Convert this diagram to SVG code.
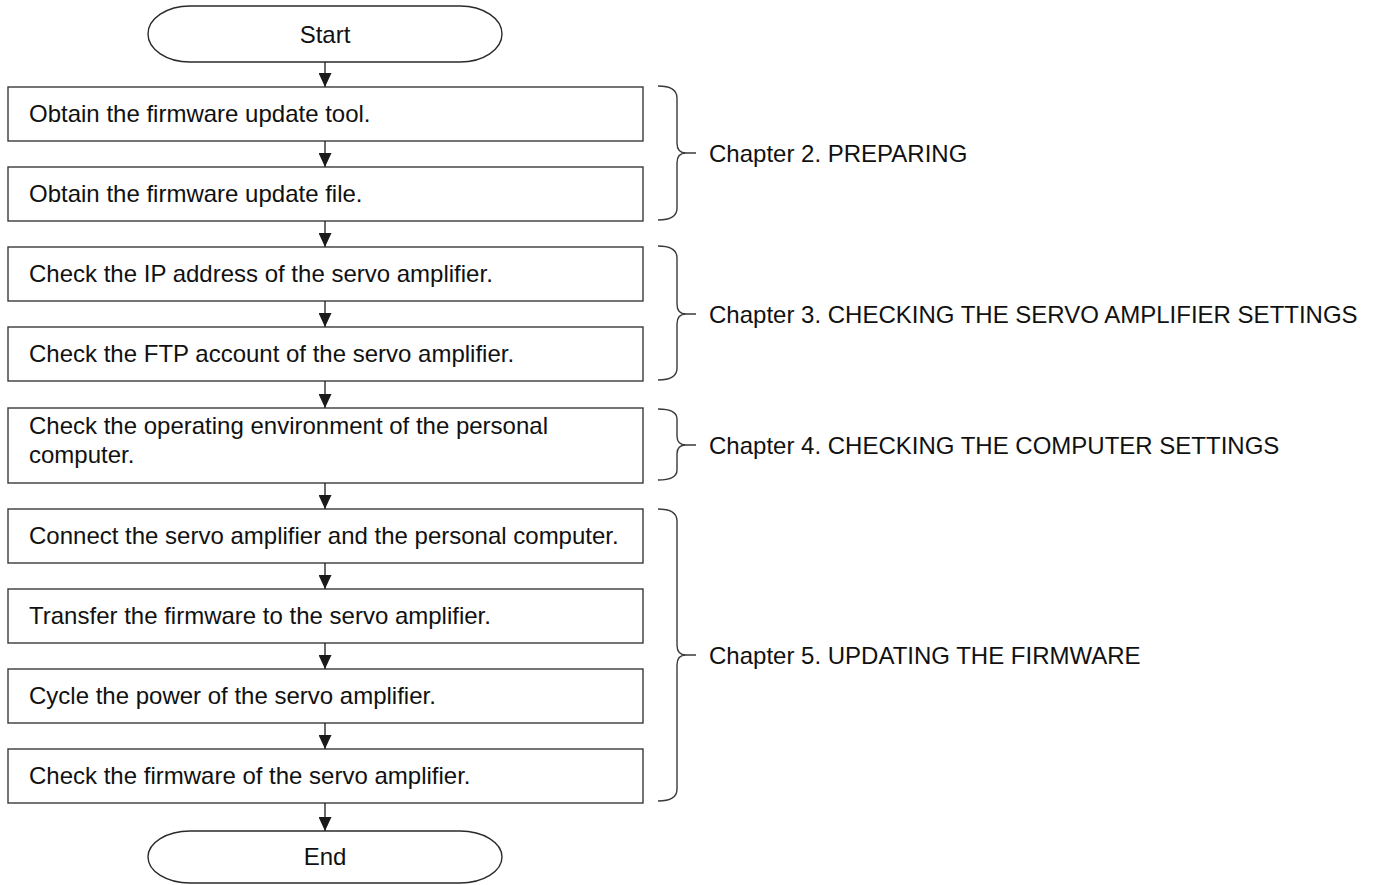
<svg xmlns="http://www.w3.org/2000/svg" width="1376" height="885" viewBox="0 0 1376 885">
<style>
.box{fill:#fff;stroke:#3a3a3a;stroke-width:1.4}
.term{fill:#fff;stroke:#2a2a2a;stroke-width:1.4}
.t{font-family:"Liberation Sans",Arial,sans-serif;font-size:24px;fill:#111}
.c{text-anchor:middle}
.con{stroke:#2a2a2a;stroke-width:1.4;fill:none}
.br{stroke:#3a3a3a;stroke-width:1.4;fill:none}
</style>
<defs>
<marker id="arr" viewBox="0 0 14 13" refX="14" refY="6.5" markerWidth="14" markerHeight="13" markerUnits="userSpaceOnUse" orient="auto">
<path d="M0,0 L14,6.5 L0,13 z" fill="#1a1a1a"/>
</marker>
</defs>
<rect width="1376" height="885" fill="#fff"/>
<g id="start"><rect class="term" x="148" y="6" width="354" height="56" rx="42" ry="28"/><text class="t c" x="325" y="43">Start</text></g>
<g id="n1"><rect class="box" x="8" y="87" width="635" height="54"/><text class="t" x="29" y="121.5">Obtain the firmware update tool.</text></g>
<g id="n2"><rect class="box" x="8" y="167" width="635" height="54"/><text class="t" x="29" y="201.5">Obtain the firmware update file.</text></g>
<g id="n3"><rect class="box" x="8" y="247" width="635" height="54"/><text class="t" x="29" y="281.5">Check the IP address of the servo amplifier.</text></g>
<g id="n4"><rect class="box" x="8" y="327" width="635" height="54"/><text class="t" x="29" y="361.5">Check the FTP account of the servo amplifier.</text></g>
<g id="n5"><rect class="box" x="8" y="408" width="635" height="75"/><text class="t" x="29" y="433.5">Check the operating environment of the personal</text><text class="t" x="29" y="463">computer.</text></g>
<g id="n6"><rect class="box" x="8" y="509" width="635" height="54"/><text class="t" x="29" y="543.5">Connect the servo amplifier and the personal computer.</text></g>
<g id="n7"><rect class="box" x="8" y="589" width="635" height="54"/><text class="t" x="29" y="623.5">Transfer the firmware to the servo amplifier.</text></g>
<g id="n8"><rect class="box" x="8" y="669" width="635" height="54"/><text class="t" x="29" y="703.5">Cycle the power of the servo amplifier.</text></g>
<g id="n9"><rect class="box" x="8" y="749" width="635" height="54"/><text class="t" x="29" y="783.5">Check the firmware of the servo amplifier.</text></g>
<g id="end"><rect class="term" x="148" y="831" width="354" height="52" rx="42" ry="26"/><text class="t c" x="325" y="865">End</text></g>
<g id="connectors">
<line class="con" x1="325" y1="62" x2="325" y2="87" marker-end="url(#arr)"/>
<line class="con" x1="325" y1="141" x2="325" y2="167" marker-end="url(#arr)"/>
<line class="con" x1="325" y1="221" x2="325" y2="247" marker-end="url(#arr)"/>
<line class="con" x1="325" y1="301" x2="325" y2="327" marker-end="url(#arr)"/>
<line class="con" x1="325" y1="381" x2="325" y2="408" marker-end="url(#arr)"/>
<line class="con" x1="325" y1="483" x2="325" y2="509" marker-end="url(#arr)"/>
<line class="con" x1="325" y1="563" x2="325" y2="589" marker-end="url(#arr)"/>
<line class="con" x1="325" y1="643" x2="325" y2="669" marker-end="url(#arr)"/>
<line class="con" x1="325" y1="723" x2="325" y2="749" marker-end="url(#arr)"/>
<line class="con" x1="325" y1="803" x2="325" y2="831" marker-end="url(#arr)"/>
</g>
<g id="ch2">
<path class="br" d="M658,86 Q677,86 677,98 L677,143 Q677,153 686,153 L696,153 M686,153 Q677,153 677,163 L677,208 Q677,220 658,220"/>
<text class="t" x="709" y="162">Chapter 2. PREPARING</text>
</g>
<g id="ch3">
<path class="br" d="M658,246 Q677,246 677,258 L677,304 Q677,314 686,314 L696,314 M686,314 Q677,314 677,324 L677,368 Q677,380 658,380"/>
<text class="t" x="709" y="323">Chapter 3. CHECKING THE SERVO AMPLIFIER SETTINGS</text>
</g>
<g id="ch4">
<path class="br" d="M658,409 Q677,409 677,419 L677,436 Q677,445 686,445 L696,445 M686,445 Q677,445 677,454 L677,470 Q677,480 658,480"/>
<text class="t" x="709" y="454">Chapter 4. CHECKING THE COMPUTER SETTINGS</text>
</g>
<g id="ch5">
<path class="br" d="M658,509 Q677,509 677,521 L677,645 Q677,655 686,655 L696,655 M686,655 Q677,655 677,665 L677,789 Q677,801 658,801"/>
<text class="t" x="709" y="664">Chapter 5. UPDATING THE FIRMWARE</text>
</g>
</svg>
